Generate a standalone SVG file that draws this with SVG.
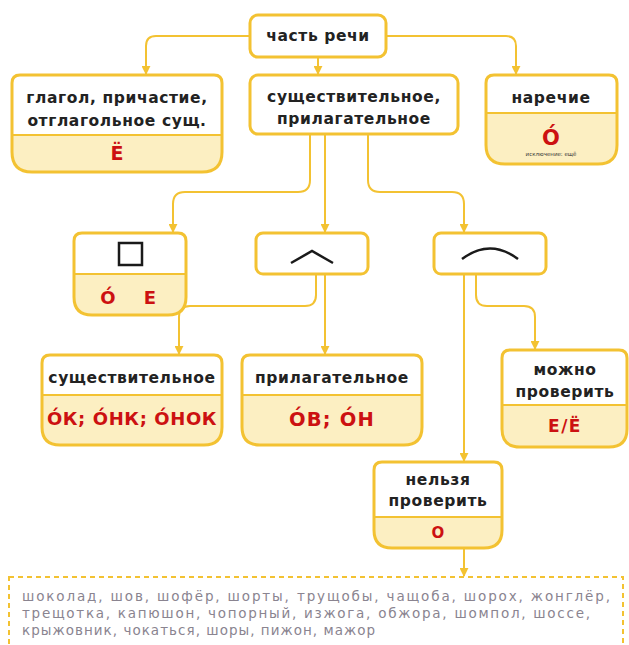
<svg xmlns="http://www.w3.org/2000/svg" width="629" height="645" viewBox="0 0 629 645">
<style>
.box{fill:#fff;stroke:#f3c232;stroke-width:3}
.low{fill:#fcefc2;stroke:none}
.div{stroke:#f3c232;stroke-width:2}
.t{font-family:"DejaVu Sans","Noto Sans",sans-serif;font-weight:bold;font-size:15.5px;letter-spacing:0.6px;fill:#222;text-anchor:middle}
.r{font-family:"DejaVu Sans","Noto Sans",sans-serif;font-weight:bold;font-size:18px;fill:#cc1111;text-anchor:middle}
.c{fill:none;stroke:#f3c232;stroke-width:2}
.g{font-family:"DejaVu Sans","Noto Sans",sans-serif;font-size:13.5px;fill:#8a8490}
</style>
<defs>
<marker id="ah" viewBox="0 0 10 10" refX="9" refY="5" markerWidth="4.5" markerHeight="4.5" orient="auto"><path d="M0,0 L10,5 L0,10 z" fill="#f3c232"/></marker>
</defs>
<rect width="629" height="645" fill="#fff"/>
<g id="connectors">
<path class="c" marker-end="url(#ah)" d="M250,36 H156 Q146,36 146,46 V74"/>
<path class="c" marker-end="url(#ah)" d="M318,57 V74"/>
<path class="c" marker-end="url(#ah)" d="M386,36 H506 Q516,36 516,46 V74"/>
<path class="c" marker-end="url(#ah)" d="M310,134 V180 Q310,192 298,192 H185 Q173,192 173,204 V232"/>
<path class="c" marker-end="url(#ah)" d="M325,134 V232"/>
<path class="c" marker-end="url(#ah)" d="M368,134 V180 Q368,192 380,192 H452 Q464,192 464,204 V232"/>
<path class="c" marker-end="url(#ah)" d="M316,275 V295 Q316,306 305,306 H190 Q179,306 179,317 V354"/>
<path class="c" marker-end="url(#ah)" d="M325,275 V354"/>
<path class="c" marker-end="url(#ah)" d="M464,275 V461"/>
<path class="c" marker-end="url(#ah)" d="M476,275 V295 Q476,306 487,306 H524 Q535,306 535,317 V349"/>
<path class="c" marker-end="url(#ah)" d="M464,549 V576"/>
</g>
<g id="n-root">
<rect class="box" x="250" y="15" width="136" height="42" rx="8"/>
<text class="t" x="318" y="41">часть речи</text>
</g>
<g id="n-verb">
<path class="low" d="M12,135 H222 V152 Q222,172 202,172 H32 Q12,172 12,152 Z"/>
<path class="box" style="fill:none" d="M20,75 H214 Q222,75 222,83 V152 Q222,172 202,172 H32 Q12,172 12,152 V83 Q12,75 20,75 Z"/>
<line class="div" x1="12" y1="135" x2="222" y2="135"/>
<text class="t" x="117" y="103">глагол, причастие,</text>
<text class="t" x="117" y="126">отглагольное сущ.</text>
<text class="r" x="117" y="160" style="font-size:19px">Ё</text>
</g>
<g id="n-noun-adj">
<rect class="box" x="250" y="75" width="208" height="59" rx="8"/>
<text class="t" x="354" y="102">существительное,</text>
<text class="t" x="354" y="124">прилагательное</text>
</g>
<g id="n-adv">
<path class="low" d="M486,113 H617 V145 Q617,164 598,164 H505 Q486,164 486,145 Z"/>
<path class="box" style="fill:none" d="M494,75 H609 Q617,75 617,83 V145 Q617,164 598,164 H505 Q486,164 486,145 V83 Q486,75 494,75 Z"/>
<line class="div" x1="486" y1="113" x2="617" y2="113"/>
<text class="t" x="551" y="103">наречие</text>
<text class="r" x="551" y="145" style="font-size:21px">О́</text>
<text x="551" y="156" style="font-family:'DejaVu Sans',sans-serif;font-size:5.5px;fill:#333;text-anchor:middle">исключение: ещё</text>
</g>
<g id="n-root-part">
<path class="low" d="M74,274 H186 V297 Q186,315 168,315 H92 Q74,315 74,297 Z"/>
<path class="box" style="fill:none" d="M82,233 H178 Q186,233 186,241 V297 Q186,315 168,315 H92 Q74,315 74,297 V241 Q74,233 82,233 Z"/>
<line class="div" x1="74" y1="274" x2="186" y2="274"/>
<rect x="119" y="243" width="23" height="22" fill="none" stroke="#1a1a1a" stroke-width="2.5"/>
<text class="r" x="108" y="304">О́</text>
<text class="r" x="150" y="304">Е</text>
</g>
<g id="n-suffix">
<rect class="box" x="256" y="233" width="112" height="41" rx="7"/>
<path d="M291,263 L312,251 L333,263" fill="none" stroke="#1a1a1a" stroke-width="2.5"/>
</g>
<g id="n-ending-root">
<rect class="box" x="434" y="233" width="112" height="41" rx="7"/>
<path d="M462,259 Q490,238 518,259" fill="none" stroke="#1a1a1a" stroke-width="2.5"/>
</g>
<g id="n-noun">
<path class="low" d="M42,395 H222 V427 Q222,445 204,445 H60 Q42,445 42,427 Z"/>
<path class="box" style="fill:none" d="M50,355 H214 Q222,355 222,363 V427 Q222,445 204,445 H60 Q42,445 42,427 V363 Q42,355 50,355 Z"/>
<line class="div" x1="42" y1="395" x2="222" y2="395"/>
<text class="t" x="132" y="383">существительное</text>
<text class="r" x="132" y="425" style="font-size:18px;letter-spacing:0.6px">О́К; О́НК; О́НОК</text>
</g>
<g id="n-adj">
<path class="low" d="M242,395 H422 V427 Q422,445 404,445 H260 Q242,445 242,427 Z"/>
<path class="box" style="fill:none" d="M250,355 H414 Q422,355 422,363 V427 Q422,445 404,445 H260 Q242,445 242,427 V363 Q242,355 250,355 Z"/>
<line class="div" x1="242" y1="395" x2="422" y2="395"/>
<text class="t" x="332" y="383">прилагательное</text>
<text class="r" x="332" y="426" style="font-size:19.5px;letter-spacing:1.2px">О́В; О́Н</text>
</g>
<g id="n-check">
<path class="low" d="M502,405 H627 V429 Q627,447 609,447 H520 Q502,447 502,429 Z"/>
<path class="box" style="fill:none" d="M510,350 H619 Q627,350 627,358 V429 Q627,447 609,447 H520 Q502,447 502,429 V358 Q502,350 510,350 Z"/>
<line class="div" x1="502" y1="405" x2="627" y2="405"/>
<text class="t" x="565" y="375">можно</text>
<text class="t" x="565" y="397">проверить</text>
<text class="r" x="565" y="432" style="font-size:17px;letter-spacing:1.5px">Е/Ё</text>
</g>
<g id="n-nocheck">
<path class="low" d="M374,517 H502 V530 Q502,548 484,548 H392 Q374,548 374,530 V517 Z"/>
<path class="box" style="fill:none" d="M382,462 H494 Q502,462 502,470 V530 Q502,548 484,548 H392 Q374,548 374,530 V470 Q374,462 382,462 Z"/>
<line class="div" x1="374" y1="517" x2="502" y2="517"/>
<text class="t" x="438" y="485">нельзя</text>
<text class="t" x="438" y="506">проверить</text>
<text class="r" x="438" y="538" style="font-size:15px">О</text>
</g>
<g id="n-words">
<rect x="9" y="577" width="614" height="72" fill="none" stroke="#f3c232" stroke-width="2" stroke-dasharray="5,4"/>
<text class="g" x="22" y="601" textLength="588" lengthAdjust="spacing">шоколад, шов, шофёр, шорты, трущобы, чащоба, шорох, жонглёр,</text>
<text class="g" x="22" y="618" textLength="568" lengthAdjust="spacing">трещотка, капюшон, чопорный, изжога, обжора, шомпол, шоссе,</text>
<text class="g" x="22" y="635" textLength="353" lengthAdjust="spacing">крыжовник, чокаться, шоры, пижон, мажор</text>
</g>
</svg>
